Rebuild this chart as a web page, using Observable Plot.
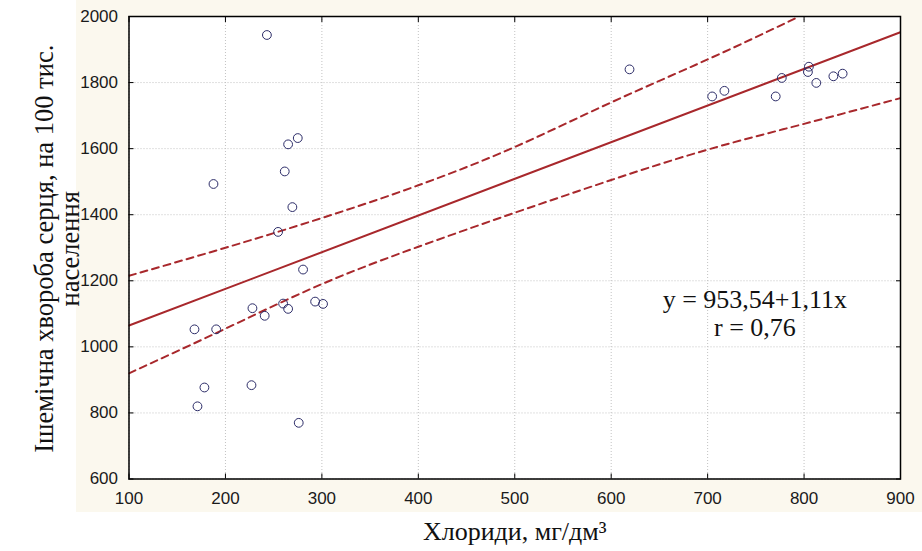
<!DOCTYPE html>
<html><head><meta charset="utf-8">
<script src="https://cdn.jsdelivr.net/npm/d3@7"></script>
<script src="https://cdn.jsdelivr.net/npm/@observablehq/plot@0.6"></script>
<style>
html,body{margin:0;padding:0;background:#fff;}
#wrap{position:relative;width:922px;height:551px;overflow:hidden;}
#cream{position:absolute;left:76px;top:0;width:846px;height:512px;background:#fbf8ee;}
#chart{position:absolute;left:0;top:0;}
</style></head><body>
<div id="wrap"><div id="cream"></div><div id="chart"></div></div>
<script>
// Observations: chloride (mg/dm3) vs ischemic heart disease (per 100k)
const chloride = [243, 265, 275, 261.5, 187.6, 269.4, 254.6, 280.5, 228, 240.7, 259.8, 265, 293, 301.2, 167.9, 190.4, 178.2, 171, 227, 276, 619, 704.7, 717.4, 770.6, 776.9, 805, 804, 812.7, 830.4, 840];
const ihd = [1944, 1613, 1632, 1531, 1493, 1423, 1348, 1234, 1117, 1094, 1131, 1115, 1137, 1130, 1053, 1053, 877, 820, 884, 770, 1840, 1758, 1775, 1758, 1814, 1848, 1832, 1799, 1819, 1827];
// Regression line endpoints (y = 953,54 + 1,11x)
const fitX = [100, 900];
const fitY = [1064.5, 1952.5];
// Confidence band
const upperX = [100, 200, 300, 400, 500, 600, 700, 795];
const upperY = [1215, 1300, 1390, 1489, 1605, 1740, 1870, 2000];
const lowerX = [100, 200, 300, 400, 500, 600, 700, 800, 900];
const lowerY = [920, 1055, 1190, 1303, 1406, 1505, 1597, 1675, 1753];
// Ticks
const xTicks = [100, 200, 300, 400, 500, 600, 700, 800, 900];
const yTicks = [600, 800, 1000, 1200, 1400, 1600, 1800, 2000];
// Texts
const annX = [749];
const annY = [1103];
const annText = ["y = 953,54+1,11x\nr = 0,76"];
const yTitle = "Ішемічна хвороба серця, на 100 тис.\nнаселення";
const xTitle = "Хлориди, мг/дм³";

const points = chloride.map((x, i) => ({x, y: ihd[i]}));
const fit = fitX.map((x, i) => ({x, y: fitY[i]}));
const upper = upperX.map((x, i) => ({x, y: upperY[i]}));
const lower = lowerX.map((x, i) => ({x, y: lowerY[i]}));
const ann = annX.map((x, i) => ({x, y: annY[i], text: annText[i]}));

const red = "#a8282c";
const navy = "#2c2c68";
const serif = "'Liberation Serif', 'Times New Roman', serif";
const fmt = d => String(d);

const plot = Plot.plot({
  width: 922, height: 551,
  marginLeft: 128.5, marginRight: 22, marginTop: 16, marginBottom: 72.5,
  style: {background: "transparent", fontFamily: "'Liberation Sans', Arial, sans-serif", fontSize: "17px", color: "#1a1a1a"},
  x: {domain: [100, 900]},
  y: {domain: [600, 2000]},
  marks: [
    Plot.frame({fill: "white", stroke: null}),
    Plot.gridX(xTicks, {stroke: "#c2c2c2", strokeOpacity: 1, strokeDasharray: "1,2"}),
    Plot.gridY(yTicks, {stroke: "#c2c2c2", strokeOpacity: 1, strokeDasharray: "1,2"}),
    Plot.line(upper, {x: "x", y: "y", curve: "natural", stroke: red, strokeWidth: 2, strokeDasharray: "7,5", clip: true}),
    Plot.line(lower, {x: "x", y: "y", curve: "natural", stroke: red, strokeWidth: 2, strokeDasharray: "7,5", clip: true}),
    Plot.line(fit, {x: "x", y: "y", stroke: red, strokeWidth: 2, clip: true}),
    Plot.dot(points, {x: "x", y: "y", r: 4.4, stroke: navy, strokeWidth: 1, fill: "none"}),
    Plot.frame({stroke: "black", strokeWidth: 1.5}),
    Plot.axisX(xTicks, {anchor: "bottom", tickSize: 0, tickPadding: 13, label: null, tickFormat: fmt}),
    Plot.axisY(yTicks, {anchor: "left", tickSize: 0, tickPadding: 11, label: null, tickFormat: fmt}),
    Plot.axisX(xTicks, {anchor: "bottom", tickSize: -5, fill: "none", label: null, stroke: "black"}),
    Plot.axisX(xTicks, {anchor: "top", tickSize: -5, fill: "none", label: null, stroke: "black"}),
    Plot.axisY(yTicks, {anchor: "left", tickSize: -5, fill: "none", label: null, stroke: "black"}),
    Plot.axisY(yTicks, {anchor: "right", tickSize: -5, fill: "none", label: null, stroke: "black"}),
    Plot.text(ann, {x: "x", y: "y", text: "text", fontFamily: serif, fontSize: 26, lineHeight: 1.09, fill: "#111"}),
    Plot.text([yTitle], {frameAnchor: "left", textAnchor: "middle", rotate: -90, dx: -71, dy: 1, fontFamily: serif, fontSize: 26.5, lineHeight: 0.95, fill: "#111"}),
    Plot.text([xTitle], {frameAnchor: "bottom", textAnchor: "middle", dy: 61, fontFamily: serif, fontSize: 26, fill: "#111"})
  ]
});
document.getElementById("chart").appendChild(plot);
</script>
</body></html>
